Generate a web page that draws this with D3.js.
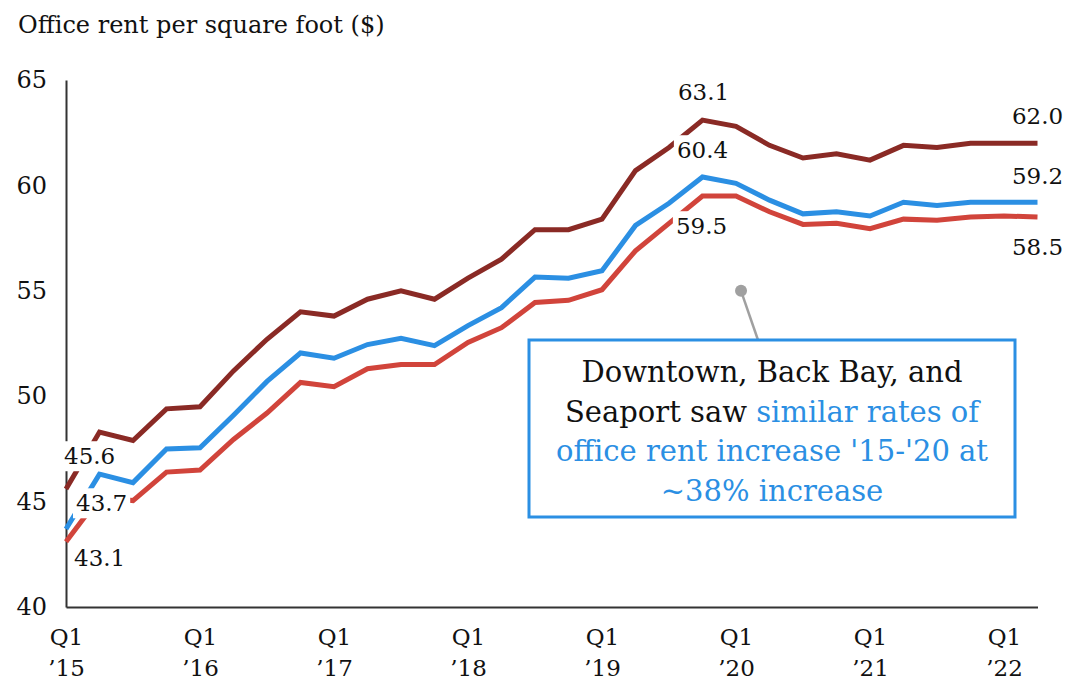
<!DOCTYPE html>
<html>
<head>
<meta charset="utf-8">
<script src="https://cdn.jsdelivr.net/npm/d3@7"></script>
<style>
  body { margin: 0; background: #fff; }
  text { font-family: "DejaVu Serif", serif; fill: #111; }
</style>
</head>
<body>
<div id="chart"></div>
<script>
// Quarters Q1 '15 .. Q2 '22
var quarters = ["Q1 '15","Q2 '15","Q3 '15","Q4 '15","Q1 '16","Q2 '16","Q3 '16","Q4 '16",
  "Q1 '17","Q2 '17","Q3 '17","Q4 '17","Q1 '18","Q2 '18","Q3 '18","Q4 '18",
  "Q1 '19","Q2 '19","Q3 '19","Q4 '19","Q1 '20","Q2 '20","Q3 '20","Q4 '20",
  "Q1 '21","Q2 '21","Q3 '21","Q4 '21","Q1 '22","Q2 '22"];

var rentDark = [45.6,48.3,47.9,49.4,49.5,51.2,52.7,54.0,53.8,54.6,55.0,54.6,55.6,56.5,57.9,57.9,
  58.4,60.7,61.8,63.1,62.8,61.9,61.3,61.5,61.2,61.9,61.8,62.0,62.0,62.0];
var rentBlue = [43.7,46.3,45.9,47.5,47.55,49.1,50.7,52.05,51.8,52.45,52.75,52.4,53.35,54.2,55.65,55.6,
  55.95,58.1,59.15,60.4,60.1,59.3,58.65,58.75,58.55,59.2,59.05,59.2,59.2,59.2];
var rentRed = [43.1,45.2,45.05,46.4,46.5,47.95,49.2,50.65,50.45,51.3,51.5,51.5,52.55,53.25,54.45,54.55,
  55.05,56.9,58.2,59.5,59.5,58.75,58.15,58.2,57.95,58.4,58.35,58.5,58.55,58.5];

var yTicks = [40, 45, 50, 55, 60, 65];
var xTickIdx = [0, 4, 8, 12, 16, 20, 24, 28];
var xTickTop = ["Q1","Q1","Q1","Q1","Q1","Q1","Q1","Q1"];
var xTickBottom = ["\u201915","\u201916","\u201917","\u201918","\u201919","\u201920","\u201921","\u201922"];

var svgWidth = 1069, svgHeight = 682;
var margin = {top: 80, right: 31.5, bottom: 75, left: 66};
var width = svgWidth - margin.left - margin.right;
var height = svgHeight - margin.top - margin.bottom;

var svg = d3.select("#chart").append("svg")
  .attr("width", svgWidth)
  .attr("height", svgHeight);

var chartGroup = svg.append("g")
  .attr("transform", `translate(${margin.left}, ${margin.top})`);

var xScale = d3.scaleLinear().domain([0, quarters.length - 1]).range([0, width]);
var yScale = d3.scaleLinear().domain([40, 65]).range([height, 0]);

// title
svg.append("text")
  .attr("x", 18).attr("y", 33)
  .style("font-size", "24px")
  .text("Office rent per square foot ($)");

// axes
var leftAxis = d3.axisLeft(yScale).tickValues(yTicks).tickSize(0).tickPadding(19);
var yAxisG = chartGroup.append("g").call(leftAxis);
yAxisG.select(".domain").attr("stroke", "#333").attr("stroke-width", 2);
yAxisG.selectAll("text").style("font-size", "24px").attr("fill", "#111");

var bottomAxis = d3.axisBottom(xScale).tickValues(xTickIdx).tickSize(0).tickFormat("");
var xAxisG = chartGroup.append("g").attr("transform", `translate(0, ${height})`).call(bottomAxis);
xAxisG.select(".domain").attr("stroke", "#333").attr("stroke-width", 2);
xAxisG.selectAll(".tick").each(function(d, i) {
  var t = d3.select(this).append("text")
    .attr("text-anchor", "middle")
    .style("font-size", "23px");
  t.append("tspan").attr("x", 0).attr("y", 38).text(xTickTop[i]);
  t.append("tspan").attr("x", 0).attr("y", 69).text(xTickBottom[i]);
});

// lines
var line = d3.line()
  .x((d, i) => xScale(i))
  .y(d => yScale(d));

var series = [
  {values: rentDark, color: "#8a2a25"},
  {values: rentBlue, color: "#2b8fe3"},
  {values: rentRed, color: "#d1443b"}
];

chartGroup.selectAll(".series")
  .data(series)
  .enter()
  .append("path")
  .attr("class", "series")
  .attr("fill", "none")
  .attr("stroke", d => d.color)
  .attr("stroke-width", 5)
  .attr("stroke-linejoin", "miter")
  .attr("d", d => line(d.values));

// value labels (series, point index, offset, anchor)
var labels = [
  {s: 0, i: 0, dx: -2, dy: -33, anchor: "start"},
  {s: 1, i: 0, dx: 10, dy: -26, anchor: "start"},
  {s: 2, i: 0, dx: 8, dy: 16, anchor: "start"},
  {s: 0, i: 19, dx: 1, dy: -28, anchor: "middle"},
  {s: 1, i: 19, dx: 0, dy: -27, anchor: "middle"},
  {s: 2, i: 19, dx: -1, dy: 30, anchor: "middle"},
  {s: 0, i: 29, dx: 0, dy: -28, anchor: "middle"},
  {s: 1, i: 29, dx: 0, dy: -27, anchor: "middle"},
  {s: 2, i: 29, dx: 0, dy: 30, anchor: "middle"}
];

var labelGroup = chartGroup.selectAll(".vlabel")
  .data(labels)
  .enter()
  .append("g")
  .attr("class", "vlabel")
  .attr("transform", d => `translate(${xScale(d.i) + d.dx}, ${yScale(series[d.s].values[d.i]) + d.dy})`);

labelGroup.append("text")
  .attr("text-anchor", d => d.anchor)
  .attr("dy", "0.36em")
  .style("font-size", "23px")
  .text(d => series[d.s].values[d.i].toFixed(1));

labelGroup.each(function() {
  var g = d3.select(this);
  var bb = g.select("text").node().getBBox();
  g.insert("rect", "text")
    .attr("x", bb.x - 3).attr("y", bb.y - 2)
    .attr("width", bb.width + 6).attr("height", bb.height + 4)
    .attr("fill", "#fff");
});

// callout
var dotX = xScale(20.15), dotY = yScale(55);
var box = {x: 529, y: 340, w: 486, h: 177};

svg.append("line")
  .attr("x1", margin.left + dotX).attr("y1", margin.top + dotY)
  .attr("x2", 758).attr("y2", box.y)
  .attr("stroke", "#a0a0a0").attr("stroke-width", 2.5);

svg.append("circle")
  .attr("cx", margin.left + dotX).attr("cy", margin.top + dotY)
  .attr("r", 6).attr("fill", "#a0a0a0");

svg.append("rect")
  .attr("x", box.x).attr("y", box.y)
  .attr("width", box.w).attr("height", box.h)
  .attr("fill", "#fff")
  .attr("stroke", "#2b8fe3").attr("stroke-width", 3);

var noteLines = [
  [{t: "Downtown, Back Bay, and", c: "#111"}],
  [{t: "Seaport saw ", c: "#111"}, {t: "similar rates of", c: "#2b8fe3"}],
  [{t: "office rent increase '15-'20 at", c: "#2b8fe3"}],
  [{t: "~38% increase", c: "#2b8fe3"}]
];

var note = svg.append("text")
  .attr("text-anchor", "middle")
  .style("font-size", "29px");

noteLines.forEach(function(parts, k) {
  var ln = note.append("tspan").attr("x", box.x + box.w / 2).attr("y", 382 + k * 39.5);
  parts.forEach(function(p) {
    ln.append("tspan").style("fill", p.c).text(p.t);
  });
});
</script>
</body>
</html>
